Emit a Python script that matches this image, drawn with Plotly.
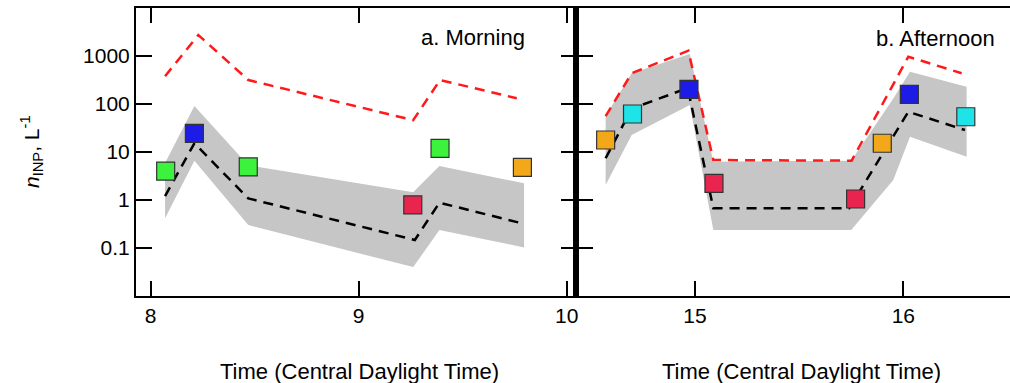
import plotly.graph_objects as go

# ---------------- data ----------------
# a. Morning
am_band_x = [8.069, 8.210, 8.469, 9.262, 9.388, 9.795]
am_band_hi = [5.9, 91, 5.3, 1.45, 5.1, 2.23]
am_band_lo = [0.415, 6.6, 0.30, 0.040, 0.237, 0.103]
am_med_x = [8.069, 8.210, 8.469, 9.270, 9.388, 9.784]
am_med_y = [1.21, 15.2, 1.08, 0.147, 0.88, 0.327]
am_max_x = [8.069, 8.229, 8.469, 9.262, 9.391, 9.760]
am_max_y = [380, 2740, 316, 46, 316, 132]
am_obs_x = [8.072, 8.210, 8.469, 9.260, 9.391, 9.787]
am_obs_y = [4.0, 24.5, 4.9, 0.79, 11.9, 4.8]
am_obs_c = ["#3cf23c", "#1c1ce6", "#3cf23c", "#e8244f", "#3cf23c", "#f2a818"]

# b. Afternoon
pm_band_x = [14.571, 14.696, 14.975, 15.088, 15.750, 15.952, 16.032, 16.304]
pm_band_hi = [56, 437, 1100, 6.3, 6.6, 130, 471, 229]
pm_band_lo = [2.05, 22.6, 95, 0.237, 0.237, 2.61, 20.8, 8.0]
pm_med_x = [14.571, 14.696, 14.965, 15.088, 15.740, 16.024, 16.296]
pm_med_y = [7.4, 80, 215, 0.67, 0.67, 69, 28.7]
pm_max_x = [14.571, 14.696, 14.968, 15.088, 15.752, 16.024, 16.280]
pm_max_y = [56, 437, 1290, 6.8, 6.6, 967, 437]
pm_obs_x = [14.571, 14.700, 14.971, 15.091, 15.771, 15.899, 16.029, 16.300]
pm_obs_y = [17.8, 61.9, 202, 2.23, 1.05, 15.2, 159, 54.3]
pm_obs_c = ["#f2a818", "#1ee4e8", "#1c1ce6", "#e8244f", "#e8244f", "#f2a818", "#1c1ce6", "#1ee4e8"]

y_ticks = [0.1, 1, 10, 100, 1000]
y_ticktext = ["0.1", "1", "10", "100", "1000"]
am_xticks = [8, 9, 10]
pm_xticks = [15, 16]
x_title = "Time (Central Daylight Time)"
y_title = "<i>n</i><sub>INP</sub>, L<sup>-1</sup>"
panel_a = "a. Morning"
panel_b = "b. Afternoon"

# ---------------- figure ----------------
W, H = 1010, 383
FONT = "Liberation Sans, Arial, sans-serif"
DASH = "10px,7px"

fig = go.Figure()


def add_panel(bx, bhi, blo, mx, my, rx, ry, ox, oy, oc, xa, ya):
    fig.add_trace(go.Scatter(
        x=list(bx) + list(bx)[::-1], y=list(bhi) + list(blo)[::-1],
        fill="toself", fillcolor="#c6c6c6", line=dict(width=0),
        mode="lines", hoverinfo="skip", xaxis=xa, yaxis=ya, showlegend=False))
    fig.add_trace(go.Scatter(
        x=mx, y=my, mode="lines", line=dict(color="black", width=2.5, dash=DASH),
        xaxis=xa, yaxis=ya, showlegend=False))
    fig.add_trace(go.Scatter(
        x=rx, y=ry, mode="lines", line=dict(color="#ff1a1a", width=2.5, dash=DASH),
        xaxis=xa, yaxis=ya, showlegend=False))
    fig.add_trace(go.Scatter(
        x=ox, y=oy, mode="markers",
        marker=dict(symbol="square", size=18, color=oc,
                    line=dict(color="#333333", width=1.2)),
        xaxis=xa, yaxis=ya, showlegend=False))


add_panel(am_band_x, am_band_hi, am_band_lo, am_med_x, am_med_y,
          am_max_x, am_max_y, am_obs_x, am_obs_y, am_obs_c, "x", "y")
add_panel(pm_band_x, pm_band_hi, pm_band_lo, pm_med_x, pm_med_y,
          pm_max_x, pm_max_y, pm_obs_x, pm_obs_y, pm_obs_c, "x2", "y2")

x_left, x_mid, x_right = 136, 577, 1010
y_top, y_bot = 8, 296
ydom = [(H - y_bot) / H, (H - y_top) / H]

common_x = dict(ticks="inside", ticklen=15, tickwidth=2, tickcolor="black",
                showline=True, linecolor="black", linewidth=2,
                showgrid=False, zeroline=False,
                tickfont=dict(family=FONT, size=21, color="black"))
common_y = dict(type="log", range=[-2, 4], domain=ydom,
                tickvals=y_ticks, ticktext=y_ticktext,
                ticks="inside", ticklen=16, tickwidth=2, tickcolor="black",
                showgrid=False, zeroline=False,
                tickfont=dict(family=FONT, size=21, color="black"))

fig.update_layout(
    width=W, height=H,
    margin=dict(l=0, r=0, t=0, b=0),
    paper_bgcolor="white", plot_bgcolor="white",
    font=dict(family=FONT, size=21, color="black"),
    xaxis=dict(domain=[x_left / W, x_mid / W], range=[7.9293, 10.0495],
               tickvals=am_xticks, mirror="ticks", anchor="y", **common_x),
    yaxis=dict(anchor="x", showline=True, linecolor="black", linewidth=2,
               mirror="ticks", **common_y),
    xaxis2=dict(domain=[x_mid / W, 1], range=[14.4335, 16.5122],
                tickvals=pm_xticks, mirror="ticks", anchor="y2", **common_x),
    yaxis2=dict(anchor="x2", showline=True, linecolor="black", linewidth=4,
                showticklabels=False, **common_y),
    yaxis3=dict(anchor="x2", overlaying="y2", side="right", type="log",
                range=[-2, 4], tickvals=y_ticks, ticks="inside", ticklen=7,
                tickwidth=2, tickcolor="black", showticklabels=False,
                showline=False, showgrid=False, zeroline=False),
)

annos = [
    dict(text=panel_a, x=527 / W, y=(H - 37) / H, xanchor="right", yanchor="middle",
         font=dict(family=FONT, size=22, color="black")),
    dict(text=panel_b, x=997 / W, y=(H - 38) / H, xanchor="right", yanchor="middle",
         font=dict(family=FONT, size=22, color="black")),
    dict(text=x_title, x=359 / W, y=(H - 371) / H, xanchor="center", yanchor="middle",
         font=dict(family=FONT, size=22, color="black")),
    dict(text=x_title, x=801 / W, y=(H - 371) / H, xanchor="center", yanchor="middle",
         font=dict(family=FONT, size=22, color="black")),
    dict(text=y_title, x=31 / W, y=(H - 152) / H, xanchor="center", yanchor="middle",
         textangle=-90, font=dict(family=FONT, size=21, color="black")),
]
for a in annos:
    fig.add_annotation(xref="paper", yref="paper", showarrow=False, **a)

fig.write_html("out.html")
